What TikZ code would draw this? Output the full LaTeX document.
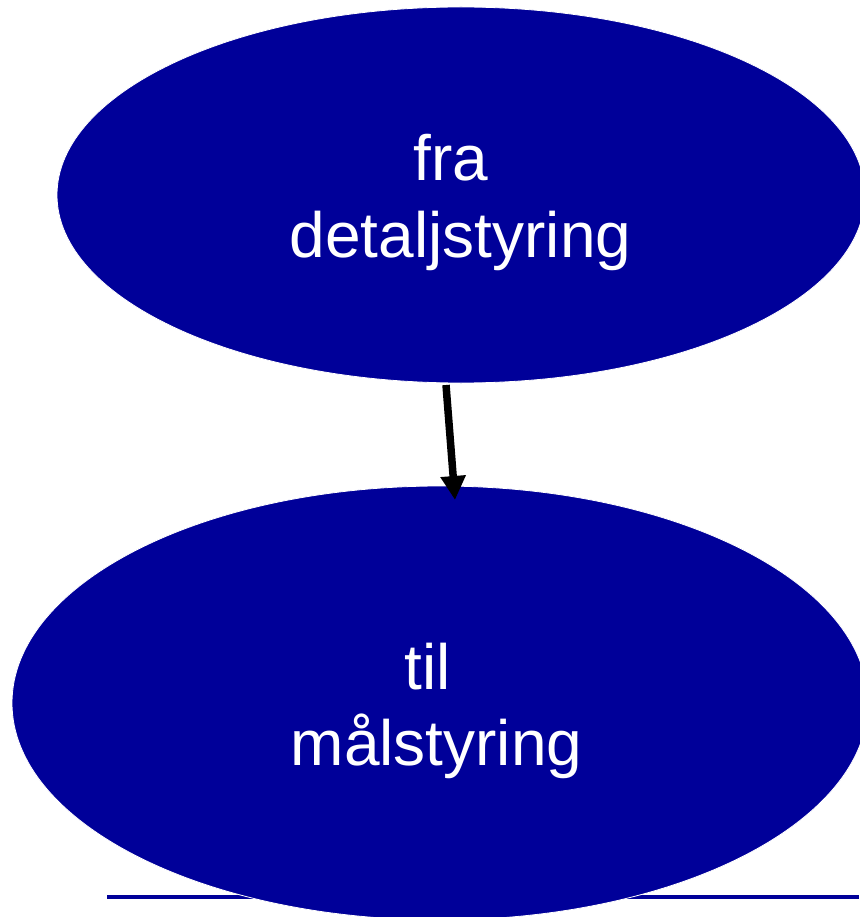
\documentclass[tikz,border=0pt]{standalone}
\usepackage{fontspec}
\setmainfont{Liberation Sans}
\usetikzlibrary{shapes.geometric,arrows.meta}
\definecolor{navy}{RGB}{0,0,153}
\begin{document}
\begin{tikzpicture}[x=1pt,y=-1pt,
  blob/.style={ellipse, fill=navy, draw=white, line width=0.8pt, inner sep=0pt},
  lbl/.style={text=white, anchor=base, inner sep=0pt, font=\fontsize{64}{76}\selectfont},
  arr/.style={line width=7.5pt, -{Triangle[length=24pt,width=24pt]}}]
\useasboundingbox (0,0) rectangle (859,917);
\draw[navy, line width=4.5pt] (107,897) coordinate (l1) -- (859,897) coordinate (l2);
\node[blob, minimum width=808pt, minimum height=376pt] (top) at (461,195) {};
\node[blob, minimum width=856pt, minimum height=434pt] (bot) at (440,703) {};
\node[lbl] (t1) at (451,181) {fra};
\node[lbl] (t2) at (460.5,257) {detaljstyring};
\node[lbl] (b1) at (427.5,689) {til};
\node[lbl] (b2) at (436.5,765) {målstyring};
\coordinate (a1) at (446,385);
\coordinate (a2) at (455,500);
\draw[arr] (a1) -- (a2);
\end{tikzpicture}
\end{document}
